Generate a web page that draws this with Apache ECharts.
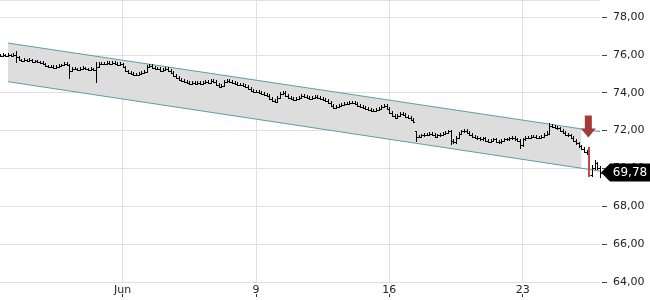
<!DOCTYPE html>
<html>
<head>
<meta charset="utf-8">
<script src="https://cdn.jsdelivr.net/npm/echarts@6/dist/echarts.min.js"></script>
<style>html,body{margin:0;padding:0;background:#fff;}#c{width:650px;height:300px;}</style>
</head>
<body>
<div id="c"></div>
<script>
// x-axis: one category per bar; week labels at given bar indices
const tickIdx = [46, 96, 146, 196];
const tickLabels = ['Jun', '9', '16', '23'];
const yTicks = [64, 66, 68, 70, 72, 74, 76, 78];

const opens = [
75.97,75.95,76.00,75.95,76.00,75.95,76.00,75.89,75.74,75.68,
75.74,75.68,75.74,75.63,75.68,75.63,75.58,75.53,75.42,75.37,
75.37,75.32,75.37,75.42,75.47,75.53,75.47,75.16,75.26,75.26,
75.21,75.26,75.32,75.26,75.21,75.26,75.21,75.37,75.53,75.53,
75.53,75.58,75.53,75.58,75.53,75.47,75.53,75.37,75.16,75.05,
75.00,74.95,74.95,75.00,75.05,75.11,75.37,75.42,75.32,75.26,
75.26,75.16,75.21,75.26,75.16,75.05,74.89,74.79,74.68,74.63,
74.58,74.53,74.47,74.53,74.47,74.53,74.47,74.53,74.58,74.53,
74.63,74.58,74.42,74.32,74.37,74.58,74.63,74.58,74.53,74.47,
74.42,74.42,74.37,74.32,74.21,74.11,74.05,74.05,74.00,73.95,
73.89,73.84,73.68,73.58,73.53,73.74,73.95,74.00,73.84,73.74,
73.68,73.63,73.68,73.74,73.84,73.79,73.74,73.68,73.74,73.79,
73.74,73.68,73.63,73.58,73.47,73.32,73.21,73.26,73.32,73.37,
73.42,73.42,73.47,73.47,73.42,73.32,73.26,73.21,73.16,73.11,
73.05,73.05,73.11,73.16,73.26,73.32,73.16,72.95,72.79,72.68,
72.79,72.89,72.84,72.74,72.68,72.58,71.95,71.68,71.68,71.74,
71.79,71.79,71.84,71.79,71.68,71.74,71.79,71.84,71.89,71.95,
71.47,71.37,71.63,71.84,71.95,72.00,71.89,71.79,71.68,71.63,
71.58,71.53,71.58,71.47,71.42,71.47,71.53,71.42,71.37,71.47,
71.53,71.53,71.58,71.63,71.53,71.47,71.21,71.53,71.63,71.63,
71.68,71.68,71.63,71.63,71.68,71.79,71.84,72.26,72.21,72.16,
72.11,72.00,71.89,71.79,71.74,71.63,71.47,71.32,71.16,71.05,
70.89,70.95,69.63,70.00,70.26,70.00
];
const closes = [
75.95,76.00,75.95,76.00,75.95,76.00,75.89,75.74,75.68,75.74,
75.68,75.74,75.63,75.68,75.63,75.58,75.53,75.42,75.37,75.37,
75.32,75.37,75.42,75.47,75.53,75.47,75.16,75.26,75.26,75.21,
75.26,75.32,75.26,75.21,75.26,75.21,75.37,75.53,75.53,75.53,
75.58,75.53,75.58,75.53,75.47,75.53,75.37,75.16,75.05,75.00,
74.95,74.95,75.00,75.05,75.11,75.37,75.42,75.32,75.26,75.26,
75.16,75.21,75.26,75.16,75.05,74.89,74.79,74.68,74.63,74.58,
74.53,74.47,74.53,74.47,74.53,74.47,74.53,74.58,74.53,74.63,
74.58,74.42,74.32,74.37,74.58,74.63,74.58,74.53,74.47,74.42,
74.42,74.37,74.32,74.21,74.11,74.05,74.05,74.00,73.95,73.89,
73.84,73.68,73.58,73.53,73.74,73.95,74.00,73.84,73.74,73.68,
73.63,73.68,73.74,73.84,73.79,73.74,73.68,73.74,73.79,73.74,
73.68,73.63,73.58,73.47,73.32,73.21,73.26,73.32,73.37,73.42,
73.42,73.47,73.47,73.42,73.32,73.26,73.21,73.16,73.11,73.05,
73.05,73.11,73.16,73.26,73.32,73.16,72.95,72.79,72.68,72.79,
72.89,72.84,72.74,72.68,72.58,72.47,71.68,71.68,71.74,71.79,
71.79,71.84,71.79,71.68,71.74,71.79,71.84,71.89,71.95,71.47,
71.37,71.63,71.84,71.95,72.00,71.89,71.79,71.68,71.63,71.58,
71.53,71.58,71.47,71.42,71.47,71.53,71.42,71.37,71.47,71.53,
71.53,71.58,71.63,71.53,71.47,71.21,71.53,71.63,71.63,71.68,
71.68,71.63,71.63,71.68,71.79,71.84,72.26,72.21,72.16,72.11,
72.00,71.89,71.79,71.74,71.63,71.47,71.32,71.16,71.05,70.89,
70.79,69.63,70.00,70.26,70.00,69.78
];
const highs = [
76.04,76.07,76.06,76.07,76.06,76.08,76.21,75.94,75.80,75.81,
75.80,75.81,75.80,75.75,75.74,75.69,75.65,75.59,75.48,75.45,
75.44,75.44,75.49,75.54,75.60,75.60,75.52,75.33,75.33,75.32,
75.33,75.39,75.38,75.32,75.33,75.32,75.60,75.60,75.61,75.60,
75.66,75.65,75.65,75.65,75.60,75.60,75.59,75.43,75.22,75.12,
75.07,75.03,75.07,75.12,75.18,75.44,75.49,75.49,75.39,75.34,
75.33,75.28,75.33,75.33,75.23,75.12,74.96,74.86,74.75,74.70,
74.65,74.60,74.60,74.60,74.60,74.60,74.60,74.65,74.65,74.70,
74.70,74.65,74.49,74.44,74.65,74.70,74.70,74.65,74.60,74.54,
74.50,74.49,74.44,74.39,74.28,74.18,74.13,74.12,74.07,74.02,
73.96,73.91,73.75,73.65,73.81,74.02,74.08,74.07,73.91,73.81,
73.75,73.75,73.81,73.92,73.91,73.86,73.81,73.81,73.86,73.86,
73.81,73.75,73.70,73.65,73.54,73.39,73.33,73.39,73.44,73.49,
73.50,73.54,73.55,73.54,73.49,73.39,73.33,73.28,73.23,73.18,
73.13,73.18,73.23,73.33,73.40,73.39,73.23,73.02,72.86,72.86,
72.96,72.96,72.91,72.81,72.75,72.65,72.00,71.76,71.81,71.86,
71.87,71.91,71.91,71.86,71.81,71.86,71.91,71.96,72.02,72.02,
71.54,71.70,71.91,72.02,72.08,72.07,71.96,71.86,71.75,71.70,
71.65,71.65,71.65,71.54,71.54,71.60,71.60,71.49,71.54,71.60,
71.61,71.65,71.70,71.70,71.60,71.54,71.60,71.70,71.71,71.75,
71.76,71.75,71.71,71.75,71.86,71.96,72.42,72.33,72.28,72.23,
72.18,72.07,71.96,71.86,71.81,71.70,71.54,71.39,71.23,71.12,
70.96,71.11,70.18,70.42,70.33,70.11
];
const lows = [
75.88,75.88,75.88,75.88,75.88,75.88,75.58,75.67,75.61,75.61,
75.61,75.61,75.56,75.56,75.56,75.51,75.46,75.35,75.30,75.29,
75.25,75.25,75.30,75.35,75.40,75.40,74.74,75.09,75.19,75.14,
75.14,75.19,75.19,75.14,75.14,75.14,74.53,75.30,75.46,75.45,
75.46,75.46,75.46,75.46,75.40,75.40,75.30,75.09,74.98,74.93,
74.88,74.87,74.88,74.93,74.98,75.04,75.30,75.25,75.19,75.18,
75.09,75.09,75.14,75.09,74.98,74.82,74.72,74.61,74.56,74.51,
74.46,74.40,74.40,74.40,74.40,74.40,74.40,74.46,74.46,74.46,
74.51,74.35,74.25,74.25,74.30,74.51,74.51,74.46,74.40,74.35,
74.34,74.30,74.25,74.14,74.04,73.98,73.97,73.93,73.88,73.82,
73.77,73.61,73.51,73.46,73.46,73.67,73.88,73.77,73.67,73.61,
73.56,73.56,73.61,73.67,73.72,73.67,73.61,73.61,73.67,73.67,
73.61,73.56,73.51,73.40,73.25,73.14,73.14,73.19,73.25,73.30,
73.34,73.35,73.40,73.35,73.25,73.19,73.14,73.09,73.04,72.98,
72.97,72.98,73.04,73.09,73.19,73.09,72.88,72.72,72.61,72.61,
72.72,72.77,72.67,72.61,72.51,72.40,71.37,71.60,71.61,71.67,
71.71,71.72,71.72,71.61,71.61,71.67,71.72,71.77,71.82,71.21,
71.28,71.30,71.56,71.77,71.88,71.82,71.72,71.61,71.56,71.51,
71.46,71.46,71.40,71.35,71.35,71.40,71.35,71.30,71.30,71.40,
71.45,71.46,71.51,71.46,71.40,71.05,71.14,71.46,71.55,71.56,
71.60,71.56,71.55,71.56,71.61,71.72,71.77,72.14,72.09,72.04,
71.93,71.82,71.72,71.67,71.56,71.40,71.25,71.09,70.98,70.82,
70.72,69.53,69.56,69.93,69.93,69.47
];

// trend channel (bar index, upper value, lower value)
const chanLineIdx = [3, 225];
const chanLineUpper = [76.62, 71.94];
const chanLineLower = [74.58, 69.86];
const chanFillIdx = [3, 218];
const chanFillUpper = [76.62, 72.08];
const chanFillLower = [74.58, 70.01];

// signal
const signalIdx = 221;
const arrowValue = 72.21;

const categories = closes.map((_, i) => 'b' + i);
const labelAt = {};
tickIdx.forEach((k, j) => { labelAt[k] = tickLabels[j]; });
const isTick = (i) => labelAt[i] !== undefined;

const barData = closes.map((c, i) => [i, lows[i], highs[i], opens[i], c]);
const lastIdx = closes.length - 1;
const lastVal = closes[lastIdx];
const fmt = (v) => v.toFixed(2).replace('.', ',');

const FONT = 'DejaVu Sans';

const chart = echarts.init(document.getElementById('c'), null, {renderer: 'canvas'});
chart.setOption({
  animation: false,
  backgroundColor: '#fff',
  grid: {left: 0, right: 50, top: -1, bottom: 18, containLabel: false},
  xAxis: [{
    type: 'category', data: categories, boundaryGap: false,
    axisLine: {show: false}, axisTick: {show: false},
    axisLabel: {interval: (i) => isTick(i), formatter: (v, i) => labelAt[i] || '',
      margin: 3, fontFamily: FONT, fontSize: 11, color: '#222'},
    splitLine: {show: true, interval: (i) => isTick(i), lineStyle: {color: '#e0e0e0', width: 1}}
  }, {
    type: 'category', data: categories, boundaryGap: false, position: 'bottom', offset: 12,
    axisLine: {show: false}, axisLabel: {show: false}, splitLine: {show: false},
    axisTick: {show: true, interval: (i) => isTick(i), length: 3, lineStyle: {color: '#333'}}
  }],
  yAxis: {
    type: 'value', position: 'right', min: 64, max: 78.895, interval: 2, offset: 2,
    axisLine: {show: false},
    axisTick: {show: true, length: 5, lineStyle: {color: '#444'}},
    axisLabel: {margin: 11, fontFamily: FONT, fontSize: 11, color: '#222', showMaxLabel: false,
      formatter: (v) => yTicks.indexOf(Math.round(v * 100) / 100) >= 0 ? fmt(v) : ''},
    splitLine: {show: true, lineStyle: {color: '#e0e0e0', width: 1}}
  },
  series: [
    {
      type: 'custom', z: 1, silent: true,
      data: [[chanFillIdx[0], chanFillUpper[0], chanFillLower[0], chanFillIdx[1], chanFillUpper[1], chanFillLower[1]]],
      renderItem: (params, api) => {
        const a = api.coord([api.value(0), api.value(1)]);
        const b = api.coord([api.value(3), api.value(4)]);
        const c = api.coord([api.value(3), api.value(5)]);
        const d = api.coord([api.value(0), api.value(2)]);
        return {type: 'polygon', shape: {points: [a, b, c, d]}, style: {fill: '#dddddd'}};
      }
    },
    {
      type: 'line', z: 2, silent: true, symbol: 'none', clip: false,
      data: chanLineIdx.map((k, j) => [k, chanLineUpper[j]]),
      lineStyle: {color: '#5a9fa7', width: 1}
    },
    {
      type: 'line', z: 2, silent: true, symbol: 'none', clip: false,
      data: chanLineIdx.map((k, j) => [k, chanLineLower[j]]),
      lineStyle: {color: '#5a9fa7', width: 1}
    },
    {
      type: 'custom', z: 3, silent: true,
      data: barData,
      renderItem: (params, api) => {
        const i = api.value(0);
        const lo = api.coord([i, api.value(1)]);
        const hi = api.coord([i, api.value(2)]);
        const op = api.coord([i, api.value(3)]);
        const cl = api.coord([i, api.value(4)]);
        const x = Math.round(lo[0]);
        const sig = i === signalIdx;
        const color = sig ? '#bf4a42' : '#000';
        const w = sig ? 2 : 1;
        const yh = Math.round(hi[1]), yl = Math.round(lo[1]);
        return {type: 'group', children: [
          {type: 'rect', shape: {x: x - (sig ? 1 : 0), y: yh, width: w, height: Math.max(1, yl - yh)}, style: {fill: color}},
          {type: 'rect', shape: {x: x - 1, y: Math.round(op[1]), width: 1, height: 1}, style: {fill: color}},
          {type: 'rect', shape: {x: x + 1, y: Math.round(cl[1]), width: 1, height: 1}, style: {fill: color}}
        ]};
      }
    },
    {
      type: 'scatter', z: 4, silent: true, clip: false,
      data: [[signalIdx, arrowValue]],
      symbol: 'path://M4,0 L11,0 L11,13 L15,13 L7.5,22 L0,13 L4,13 Z',
      symbolSize: [15, 22],
      symbolOffset: [-1, 0],
      itemStyle: {color: '#a23c35', opacity: 1}
    },
    {
      type: 'scatter', z: 5, silent: true, clip: false,
      data: [[lastIdx, lastVal]],
      symbol: 'path://M0,9 L9,0 L50,0 L50,18 L9,18 Z',
      symbolSize: [50, 18],
      symbolOffset: [26, 0],
      itemStyle: {color: '#000', opacity: 1},
      label: {show: true, position: 'inside', offset: [4, 0], formatter: () => fmt(lastVal),
        color: '#fff', fontFamily: FONT, fontSize: 12}
    }
  ]
});
</script>
</body>
</html>
